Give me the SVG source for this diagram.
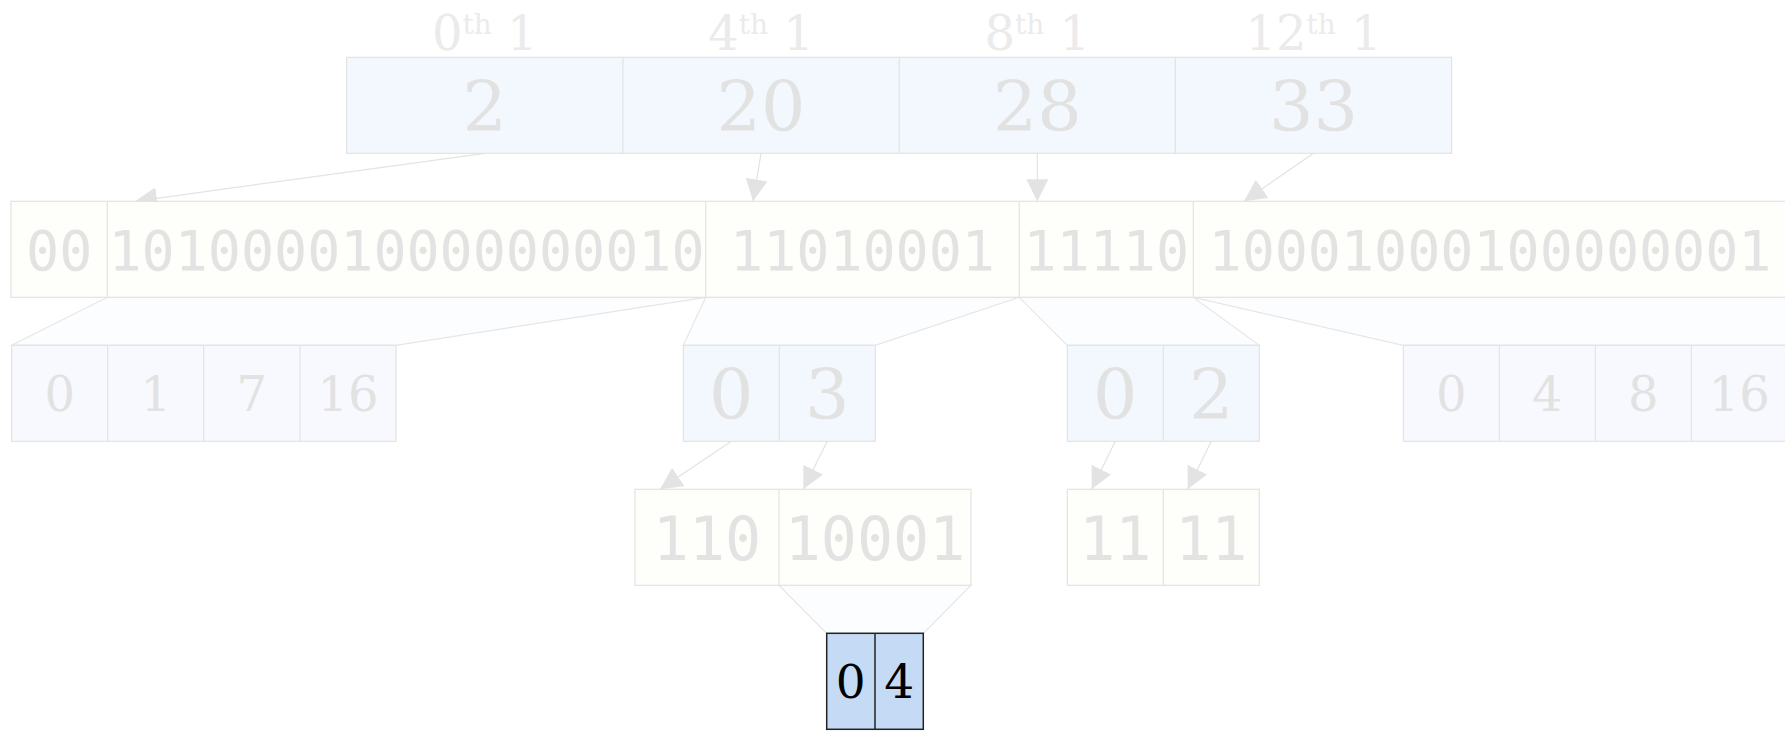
<svg xmlns="http://www.w3.org/2000/svg" width="1785" height="733" viewBox="0 0 1785 733">
<style>
.bg{fill:#ffffff}
.cell{stroke:#e3e3e3;stroke-width:1.2}
.blue{fill:#f3f8fe}
.pale{fill:#f8f9fe}
.cream{fill:#fefefb}
.div{stroke:#e3e3e3;stroke-width:1.2;fill:none}
.serif{font-family:"DejaVu Serif","Liberation Serif",serif;fill:#e2e2e2;text-anchor:middle}
.mono{font-family:"DejaVu Sans Mono","Liberation Mono",monospace;fill:#e3e3e3;text-anchor:middle;font-size:55px}
.mono2{font-family:"DejaVu Sans Mono","Liberation Mono",monospace;fill:#e3e3e3;text-anchor:middle;font-size:60px}
.lbl{font-family:"DejaVu Serif","Liberation Serif",serif;fill:#ebebeb;text-anchor:middle;font-size:48px}
.big{font-size:70px}
.mid{font-size:48px}
.trap{fill:#fcfdfe;stroke:#e6e6e6;stroke-width:1.2}
.arr{stroke:#e3e3e3;stroke-width:1.2;fill:none;marker-end:url(#ah)}
.sel{fill:#c5dbf5;stroke:#222222;stroke-width:1.5}
.seltxt{font-family:"DejaVu Serif","Liberation Serif",serif;fill:#000000;text-anchor:middle;font-size:47px}
</style>
<defs>
<marker id="ah" markerUnits="userSpaceOnUse" markerWidth="22" markerHeight="22" refX="22" refY="11" orient="auto">
<path d="M0,0 L22,11 L0,22 z" fill="#e3e3e3"/>
</marker>
</defs>
<rect class="bg" x="0" y="0" width="1785" height="733"/>

<g id="connectors">
<polygon class="trap" points="107.3,297.3 705.7,297.3 396,345.3 11.7,345.3"/>
<polygon class="trap" points="705.7,297.3 1019.2,297.3 875.3,345.3 683.3,345.3"/>
<polygon class="trap" points="1019.2,297.3 1193.3,297.3 1259.3,345.3 1067.3,345.3"/>
<polygon class="trap" points="1193.3,297.3 1790,297.3 1790,345.3 1403.3,345.3"/>
<polygon class="trap" points="779,585.3 971,585.3 923.3,633.3 826.7,633.3"/>
<line class="arr" x1="484.8" y1="153.3" x2="135" y2="201.3"/>
<line class="arr" x1="761" y1="153.3" x2="753" y2="201.3"/>
<line class="arr" x1="1037.3" y1="153.3" x2="1037.3" y2="201.3"/>
<line class="arr" x1="1313.5" y1="153.3" x2="1244" y2="201.3"/>
<line class="arr" x1="731.3" y1="441.3" x2="660" y2="489.3"/>
<line class="arr" x1="827.3" y1="441.3" x2="803.3" y2="489.3"/>
<line class="arr" x1="1115.3" y1="441.3" x2="1091.7" y2="489.3"/>
<line class="arr" x1="1211.3" y1="441.3" x2="1187.7" y2="489.3"/>
</g>

<g id="labels">
<text class="lbl" x="484.8" y="50">0<tspan font-size="28" dy="-16">th</tspan><tspan dy="16"> 1</tspan></text>
<text class="lbl" x="761" y="50">4<tspan font-size="28" dy="-16">th</tspan><tspan dy="16"> 1</tspan></text>
<text class="lbl" x="1037.3" y="50">8<tspan font-size="28" dy="-16">th</tspan><tspan dy="16"> 1</tspan></text>
<text class="lbl" x="1313.5" y="50">12<tspan font-size="28" dy="-16">th</tspan><tspan dy="16"> 1</tspan></text>
</g>

<g id="samples">
<rect class="cell blue" x="346.7" y="57.3" width="1104.9" height="96"/>
<line class="div" x1="622.9" y1="57.3" x2="622.9" y2="153.3"/>
<line class="div" x1="899.2" y1="57.3" x2="899.2" y2="153.3"/>
<line class="div" x1="1175.4" y1="57.3" x2="1175.4" y2="153.3"/>
<text class="serif big" x="484.8" y="130.8">2</text>
<text class="serif big" x="761" y="130.8">20</text>
<text class="serif big" x="1037.3" y="130.8">28</text>
<text class="serif big" x="1313.5" y="130.8">33</text>
</g>

<g id="bits">
<rect class="cell cream" x="11" y="201.3" width="1780" height="96"/>
<line class="div" x1="107.3" y1="201.3" x2="107.3" y2="297.3"/>
<line class="div" x1="705.7" y1="201.3" x2="705.7" y2="297.3"/>
<line class="div" x1="1019.2" y1="201.3" x2="1019.2" y2="297.3"/>
<line class="div" x1="1193.3" y1="201.3" x2="1193.3" y2="297.3"/>
<text class="mono" x="59.2" y="270">00</text>
<text class="mono" x="406.5" y="270">101000010000000010</text>
<text class="mono" x="862.5" y="270">11010001</text>
<text class="mono" x="1106.3" y="270">11110</text>
<text class="mono" x="1490" y="270">10001000100000001</text>
</g>

<g id="offsets-a">
<rect class="cell pale" x="11.7" y="345.3" width="384.3" height="96"/>
<line class="div" x1="107.7" y1="345.3" x2="107.7" y2="441.3"/>
<line class="div" x1="203.7" y1="345.3" x2="203.7" y2="441.3"/>
<line class="div" x1="300" y1="345.3" x2="300" y2="441.3"/>
<text class="serif mid" x="59.7" y="410.8">0</text>
<text class="serif mid" x="155.7" y="410.8">1</text>
<text class="serif mid" x="251.8" y="410.8">7</text>
<text class="serif mid" x="348" y="410.8">16</text>
</g>

<g id="offsets-b">
<rect class="cell blue" x="683.3" y="345.3" width="192" height="96"/>
<line class="div" x1="779.3" y1="345.3" x2="779.3" y2="441.3"/>
<text class="serif big" x="731.3" y="418.8">0</text>
<text class="serif big" x="827.3" y="418.8">3</text>
</g>

<g id="offsets-c">
<rect class="cell blue" x="1067.3" y="345.3" width="192" height="96"/>
<line class="div" x1="1163.3" y1="345.3" x2="1163.3" y2="441.3"/>
<text class="serif big" x="1115.3" y="418.8">0</text>
<text class="serif big" x="1211.3" y="418.8">2</text>
</g>

<g id="offsets-d">
<rect class="cell pale" x="1403.3" y="345.3" width="384" height="96"/>
<line class="div" x1="1499.3" y1="345.3" x2="1499.3" y2="441.3"/>
<line class="div" x1="1595.3" y1="345.3" x2="1595.3" y2="441.3"/>
<line class="div" x1="1691.3" y1="345.3" x2="1691.3" y2="441.3"/>
<text class="serif mid" x="1451.3" y="410.8">0</text>
<text class="serif mid" x="1547.3" y="410.8">4</text>
<text class="serif mid" x="1643.3" y="410.8">8</text>
<text class="serif mid" x="1739.3" y="410.8">16</text>
</g>

<g id="pieces-e">
<rect class="cell cream" x="635" y="489.3" width="336" height="96"/>
<line class="div" x1="779" y1="489.3" x2="779" y2="585.3"/>
<text class="mono2" x="707" y="559.5">110</text>
<text class="mono2" x="875" y="559.5">10001</text>
</g>

<g id="pieces-f">
<rect class="cell cream" x="1067.3" y="489.3" width="192" height="96"/>
<line class="div" x1="1163.3" y1="489.3" x2="1163.3" y2="585.3"/>
<text class="mono2" x="1115.3" y="559.5">11</text>
<text class="mono2" x="1211.3" y="559.5">11</text>
</g>

<g id="selected">
<rect class="sel" x="826.7" y="633.3" width="96.6" height="96"/>
<line x1="875" y1="633.3" x2="875" y2="729.3" stroke="#222222" stroke-width="1.5"/>
<text class="seltxt" x="850.8" y="698.4">0</text>
<text class="seltxt" x="899.2" y="698.4">4</text>
</g>
</svg>
